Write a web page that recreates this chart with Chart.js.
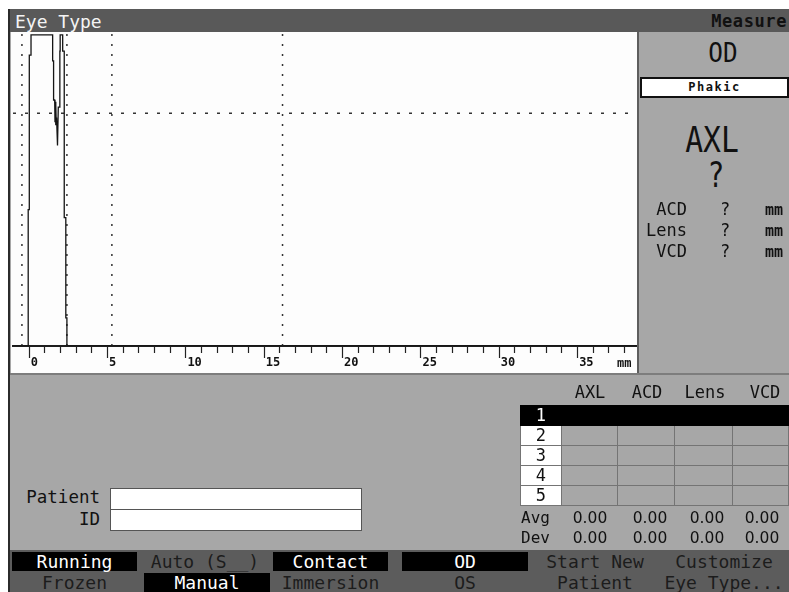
<!DOCTYPE html>
<html>
<head>
<meta charset="utf-8">
<title>Eye Type</title>
<script src="https://cdn.jsdelivr.net/npm/chart.js@4.4.1/dist/chart.umd.min.js"></script>
<style>
body { margin: 0; width: 789px; height: 592px; overflow: hidden; background: #fff; position: relative;
       font-family: "DejaVu Sans Mono", monospace; color: #111; }
.box { position: absolute; box-sizing: border-box; }
.txt { position: absolute; white-space: nowrap; }
.c { text-align: center; }
.btn { position: absolute; height: 19px; line-height: 19px; font-size: 18px; text-align: center; color: #1c1c1c; white-space: nowrap; }
.on { background: #000; color: #fff; }
.num { font-family: "DejaVu Sans", sans-serif; font-size: 15.5px; line-height: 16px; width: 50px; text-align: center; }
table.grid { position: absolute; left: 520px; top: 405px; border-collapse: collapse; }
table.grid td { border: 1px solid #747474; height: 19px; padding: 0; font-size: 17px; line-height: 19px; text-align: center; }
table.grid td.n { background: #fff; color: #111; }
table.grid tr.sel td { background: #000; color: #fff; border-color: #000; }
</style>
</head>
<body>
<!-- frame and panels -->
<div class="box" style="left:8px;top:9px;width:781px;height:583px;background:#2b2b2b"></div>
<div class="box" style="left:10px;top:9px;width:779px;height:23px;background:#595959"></div>
<div class="txt" style="left:15px;top:10px;font-size:18px;line-height:23px;color:#f4f4f4">Eye Type</div>
<div class="txt" style="right:2px;top:10px;font-size:17px;line-height:23px;font-weight:bold;letter-spacing:0.6px;color:#111">Measure</div>
<div class="box" style="left:10px;top:32px;width:779px;height:560px;background:#a7a7a7"></div>
<div class="box" style="left:11px;top:32px;width:626px;height:341px;background:#fdfdfd"></div>
<div class="box" style="left:637px;top:32px;width:2px;height:343px;background:#5e5e5e"></div>
<div class="box" style="left:10px;top:373px;width:779px;height:2px;background:#7d7d7d"></div>

<canvas id="ScanCanvas" width="626" height="341" style="position:absolute;left:11px;top:32px"></canvas>
<div class="txt" style="left:617px;top:357px;font-size:12px;line-height:12px;font-weight:bold">mm</div>

<!-- measure panel -->
<div class="txt c" style="left:673px;width:100px;top:39px;font-size:27px;line-height:27px;transform:scaleX(0.9)">OD</div>
<div class="box c" style="left:640px;top:77px;width:149px;height:21px;border:2px solid #111;background:#fff;font-size:12px;line-height:17px;font-weight:bold;letter-spacing:1.5px">Phakic</div>
<div class="txt c" style="left:662px;width:100px;top:123px;font-size:35px;line-height:35px;transform:scaleX(0.85)">AXL</div>
<div class="txt c" style="left:666px;width:100px;top:158px;font-size:35px;line-height:35px;transform:scaleX(0.8)">?</div>

<div class="txt" style="left:630px;width:57px;text-align:right;top:201px;font-size:17px;line-height:17px">ACD</div>
<div class="txt" style="left:630px;width:57px;text-align:right;top:222px;font-size:17px;line-height:17px">Lens</div>
<div class="txt" style="left:630px;width:57px;text-align:right;top:243px;font-size:17px;line-height:17px">VCD</div>
<div class="txt c" style="left:715px;width:20px;top:201px;font-size:17px;line-height:17px">?</div>
<div class="txt c" style="left:715px;width:20px;top:222px;font-size:17px;line-height:17px">?</div>
<div class="txt c" style="left:715px;width:20px;top:243px;font-size:17px;line-height:17px">?</div>
<div class="txt c" style="left:760px;width:28px;top:202px;font-size:15px;line-height:17px;font-weight:bold">mm</div>
<div class="txt c" style="left:760px;width:28px;top:223px;font-size:15px;line-height:17px;font-weight:bold">mm</div>
<div class="txt c" style="left:760px;width:28px;top:244px;font-size:15px;line-height:17px;font-weight:bold">mm</div>

<!-- results table -->
<div class="txt c" style="left:565px;width:50px;top:384px;font-size:17px;line-height:17px">AXL</div>
<div class="txt c" style="left:622px;width:50px;top:384px;font-size:17px;line-height:17px">ACD</div>
<div class="txt c" style="left:680px;width:50px;top:384px;font-size:17px;line-height:17px">Lens</div>
<div class="txt c" style="left:740px;width:50px;top:384px;font-size:17px;line-height:17px">VCD</div>
<table class="grid">
<tr class="sel"><td style="width:40px">1</td><td style="width:56px"></td><td style="width:57px"></td><td style="width:57px"></td><td style="width:56px"></td></tr>
<tr><td class="n">2</td><td></td><td></td><td></td><td></td></tr>
<tr><td class="n">3</td><td></td><td></td><td></td><td></td></tr>
<tr><td class="n">4</td><td></td><td></td><td></td><td></td></tr>
<tr><td class="n">5</td><td></td><td></td><td></td><td></td></tr>
</table>
<div class="txt" style="left:521px;top:510px;font-size:16px;line-height:16px">Avg</div>
<div class="txt" style="left:521px;top:530px;font-size:16px;line-height:16px">Dev</div>
<div class="txt num" style="left:565px;top:510px">0.00</div>
<div class="txt num" style="left:625px;top:510px">0.00</div>
<div class="txt num" style="left:682px;top:510px">0.00</div>
<div class="txt num" style="left:737px;top:510px">0.00</div>
<div class="txt num" style="left:565px;top:530px">0.00</div>
<div class="txt num" style="left:625px;top:530px">0.00</div>
<div class="txt num" style="left:682px;top:530px">0.00</div>
<div class="txt num" style="left:737px;top:530px">0.00</div>

<!-- patient -->
<div class="txt" style="left:0;width:100px;text-align:right;top:489px;font-size:17.5px;line-height:17.5px">Patient</div>
<div class="txt" style="left:0;width:100px;text-align:right;top:511px;font-size:17.5px;line-height:17.5px">ID</div>
<div class="box" style="left:110px;top:488px;width:252px;height:22px;border:1px solid #555;background:#fff"></div>
<div class="box" style="left:110px;top:509px;width:252px;height:22px;border:1px solid #555;background:#fff"></div>

<!-- soft keys -->
<div class="box" style="left:10px;top:550px;width:779px;height:42px;background:#5c5c5c"></div>
<div class="btn on" style="left:12px;top:552px;width:125px">Running</div>
<div class="btn" style="left:140px;top:552px;width:130px">Auto (S__)</div>
<div class="btn on" style="left:273px;top:552px;width:115px">Contact</div>
<div class="btn on" style="left:402px;top:552px;width:126px">OD</div>
<div class="btn" style="left:535px;top:552px;width:120px">Start New</div>
<div class="btn" style="left:664px;top:552px;width:120px">Customize</div>
<div class="btn" style="left:12px;top:573px;width:125px">Frozen</div>
<div class="btn on" style="left:144px;top:573px;width:126px">Manual</div>
<div class="btn" style="left:273px;top:573px;width:115px">Immersion</div>
<div class="btn" style="left:402px;top:573px;width:126px">OS</div>
<div class="btn" style="left:535px;top:573px;width:120px">Patient</div>
<div class="btn" style="left:664px;top:573px;width:120px">Eye Type...</div>

<script>
// A-scan echo trace, depth in mm and amplitude in % of full scale
var scanDepthMm = [-1.0, -0.03, -0.03, 0.04, 0.04, 0.15, 0.15, 1.53, 1.53, 1.59, 1.59, 1.66, 1.68,
    1.70, 1.72, 1.74, 1.76, 1.78, 1.84, 1.89, 1.99, 1.99, 2.01, 2.01, 2.17, 2.17, 2.27, 2.27,
    2.37, 2.37, 2.44, 2.44, 38.8];
var echoAmplitude = [0, 0, 43.6, 43.6, 92.9, 92.9, 99.4, 99.4, 91.1, 91.1, 78.6, 78.6, 71.5,
    78.0, 70.5, 77.0, 71.0, 73.0, 64.1, 76.3, 76.3, 94.2, 94.2, 99.4, 99.4, 94.2, 94.2, 41.0,
    41.0, 9.0, 9.0, 0, 0];

// measurement gates
var gatePositionsMm = [-0.43, 2.44, 5.31, 16.2];
var gateLevel = 74.4;

var axisMinMm = -1.0;
var axisMaxMm = 38.82;
var labelEveryMm = 5;
var lastLabelMm = 35;

var tickMarks = {
    id: 'tickMarks',
    afterDraw: function (chart) {
        var ctx = chart.ctx;
        var xScale = chart.scales.x;
        var y0 = chart.chartArea.bottom + 1;
        ctx.save();
        ctx.strokeStyle = '#222';
        ctx.lineWidth = 1.2;
        xScale.ticks.forEach(function (t) {
            if (t.value < 0) return;
            var px = Math.round(xScale.getPixelForValue(t.value)) + 0.5;
            var len = t.value % labelEveryMm === 0 ? 11 : 6;
            ctx.beginPath();
            ctx.moveTo(px, y0);
            ctx.lineTo(px, y0 + len);
            ctx.stroke();
        });
        ctx.restore();
    }
};

window.onload = function () {
    var datasets = [];

    datasets.push({
        data: scanDepthMm.map(function (d, i) { return { x: d, y: echoAmplitude[i] }; }),
        showLine: true,
        borderColor: '#151515',
        borderWidth: 1.3,
        pointRadius: 0
    });

    gatePositionsMm.forEach(function (g) {
        datasets.push({
            data: [{ x: g, y: 0 }, { x: g, y: 100 }],
            showLine: true,
            borderColor: '#333',
            borderWidth: 1.5,
            borderDash: [2, 8],
            pointRadius: 0
        });
    });

    datasets.push({
        data: [{ x: axisMinMm, y: gateLevel }, { x: axisMaxMm, y: gateLevel }],
        showLine: true,
        borderColor: '#333',
        borderWidth: 1.5,
        borderDash: [3, 9],
        pointRadius: 0
    });

    var ScanCtx = document.getElementById("ScanCanvas").getContext("2d");

    window.Scan = new Chart(ScanCtx, {
        type: 'scatter',
        data: { datasets: datasets },
        options: {
            responsive: false,
            animation: false,
            events: [],
            layout: { padding: { left: 1, top: 1, right: 0, bottom: 0 } },
            plugins: {
                legend: { display: false },
                tooltip: { enabled: false }
            },
            scales: {
                x: {
                    type: 'linear',
                    min: axisMinMm,
                    max: axisMaxMm,
                    afterFit: function (scale) { scale.height = 27; },
                    grid: { display: false, drawTicks: true, tickLength: 8 },
                    border: { display: true, color: '#1e1e1e', width: 2 },
                    ticks: {
                        stepSize: 1,
                        includeBounds: false,
                        autoSkip: false,
                        maxRotation: 0,
                        align: 'start',
                        labelOffset: 2,
                        padding: 2,
                        color: '#111',
                        font: { family: 'DejaVu Sans Mono', size: 12, weight: 'bold' },
                        callback: function (v) {
                            return (v >= 0 && v <= lastLabelMm && v % labelEveryMm === 0) ? String(v) : '';
                        }
                    }
                },
                y: { display: false, min: 0, max: 100 }
            }
        },
        plugins: [tickMarks]
    });
};
</script>
</body>
</html>
